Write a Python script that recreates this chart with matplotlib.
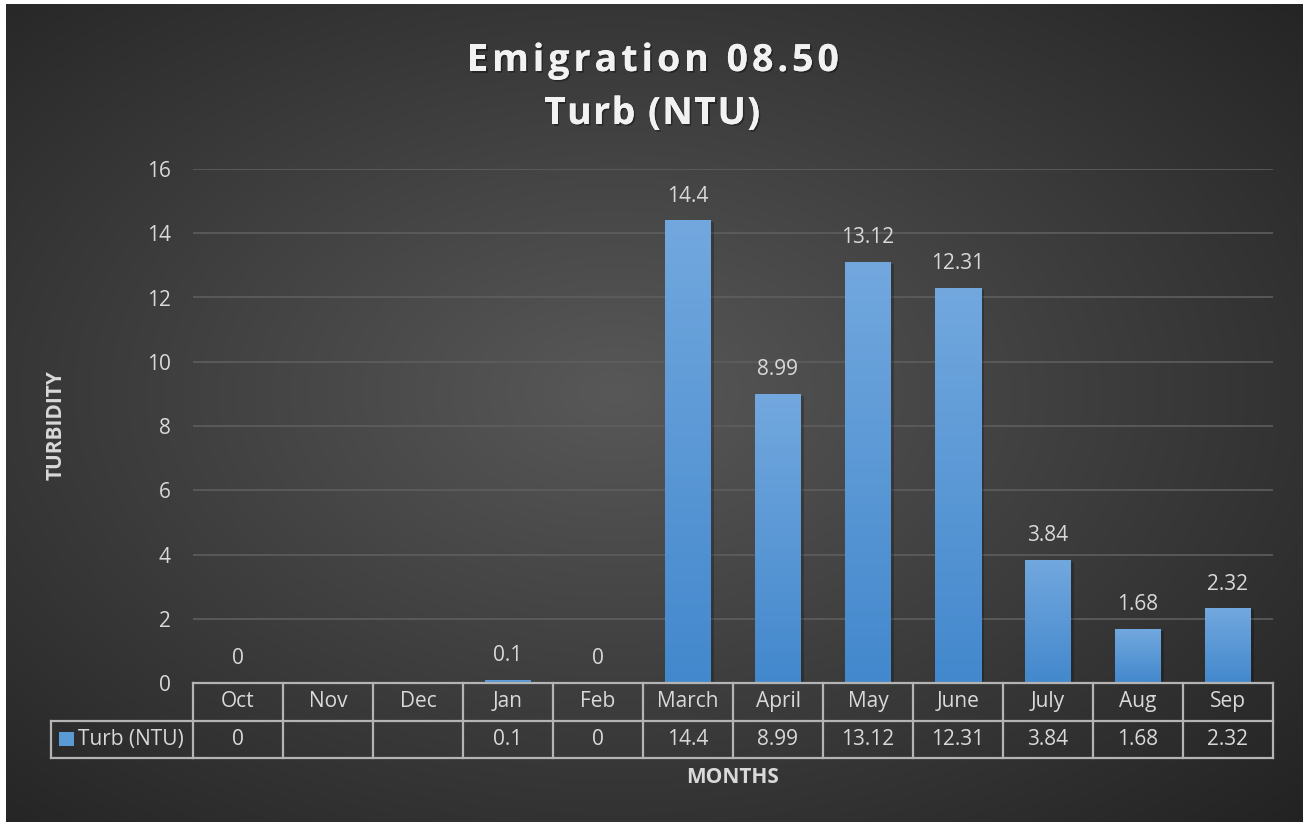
import numpy as np
import matplotlib
matplotlib.use("Agg")
import matplotlib.pyplot as plt
import matplotlib.patheffects as pe
from matplotlib.colors import LinearSegmentedColormap
from matplotlib.patches import Rectangle

months = ["Oct", "Nov", "Dec", "Jan", "Feb", "March", "April", "May", "June", "July", "Aug", "Sep"]
values = [0, None, None, 0.1, 0, 14.4, 8.99, 13.12, 12.31, 3.84, 1.68, 2.32]
table_labels = ["0", "", "", "0.1", "0", "14.4", "8.99", "13.12", "12.31", "3.84", "1.68", "2.32"]
series_name = "Turb (NTU)"
yticks = [0, 2, 4, 6, 8, 10, 12, 14, 16]
title = "Emigration 08.50"
subtitle = "Turb (NTU)"

plt.rcParams['font.family'] = ['Open Sans', 'DejaVu Sans']
W, H = 1303, 822
fig = plt.figure(figsize=(W/100, H/100), dpi=100)
fig.patch.set_facecolor("white")
txt = "#d9d9d9"
fs = 15

# background radial gradient
bg = fig.add_axes([6/W, 0, 1 - 6/W, 1 - 4/H])
bg.set_axis_off()
yy, xx = np.mgrid[0:400, 0:640]
cx, cy = 300, 190
d = np.sqrt(((xx - cx)/640)**2 + ((yy - cy)/400)**2)
d = np.clip(d / 0.75, 0, 1)
c_in = np.array([0x58, 0x58, 0x58]) / 255
c_out = np.array([0x22, 0x22, 0x22]) / 255
img = c_in[None, None, :] * (1 - d[..., None]) + c_out[None, None, :] * d[..., None]
bg.imshow(img, aspect="auto", extent=[0, 1, 0, 1], origin="upper")
bg.set_xlim(0, 1); bg.set_ylim(0, 1)

left, right = 193/W, 1273/W
bottom, top = (H - 683)/H, (H - 169)/H
ax = fig.add_axes([left, bottom, right - left, top - bottom])
ax.set_facecolor("none")
for s in ax.spines.values():
    s.set_visible(False)

x = np.arange(len(months))
ax.set_xlim(-0.5, len(months) - 0.5)
ax.set_ylim(0, 16)
ax.set_yticks(yticks)
ax.set_yticklabels([str(t) for t in yticks], color=txt, fontsize=fs)
ax.tick_params(axis="y", length=0, pad=16)
ax.set_xticks([])
ax.grid(axis="y", color="#5e5e5e", linewidth=1.2)
ax.set_axisbelow(True)

cmap = LinearSegmentedColormap.from_list("b", ["#4388cd", "#72a8de"])
grad = np.linspace(0, 1, 256).reshape(-1, 1)
bw = 46/90
for xi, v in zip(x, values):
    if v is None:
        continue
    if v > 0:
        sh = Rectangle((xi - bw/2, 0), bw, v, facecolor="black", edgecolor="none",
                       alpha=0.22, zorder=2,
                       transform=ax.transData + matplotlib.transforms.ScaledTranslation(3/100, -2/100, fig.dpi_scale_trans))
        ax.add_patch(sh)
        rect = Rectangle((xi - bw/2, 0), bw, v, facecolor="none", edgecolor="none")
        ax.add_patch(rect)
        im = ax.imshow(grad, cmap=cmap, aspect="auto", origin="lower",
                       extent=[xi - bw/2, xi + bw/2, 0, v], zorder=3)
        im.set_clip_path(rect)
    ax.annotate(f"{v:g}", (xi, v), xytext=(0, 10), textcoords="offset points",
                ha="center", va="bottom", color=txt, fontsize=fs)
ax.set_xlim(-0.5, len(months) - 0.5)
ax.set_ylim(0, 16)

# data table below
tr = ax.get_xaxis_transform()
rh = 37.5 / (683 - 169)
lc = "#b4b4b4"
lw = 1.6
ax.plot([-0.5, 11.5], [0, 0], transform=tr, color=lc, lw=lw, clip_on=False, zorder=5)
ax.plot([-0.5, 11.5], [-rh, -rh], transform=tr, color=lc, lw=lw, clip_on=False)
ax.plot([-0.5, 11.5], [-2*rh, -2*rh], transform=tr, color=lc, lw=lw, clip_on=False)
for i in range(len(months) + 1):
    ax.plot([i - 0.5, i - 0.5], [0, -2*rh], transform=tr, color=lc, lw=lw, clip_on=False)
lx0 = -0.5 - (193 - 51) / 90
ax.plot([lx0, -0.5], [-rh, -rh], transform=tr, color=lc, lw=lw, clip_on=False)
ax.plot([lx0, -0.5], [-2*rh, -2*rh], transform=tr, color=lc, lw=lw, clip_on=False)
ax.plot([lx0, lx0], [-rh, -2*rh], transform=tr, color=lc, lw=lw, clip_on=False)
for xi, m, t in zip(x, months, table_labels):
    ax.text(xi, -rh/2, m, transform=tr, ha="center", va="center", color=txt, fontsize=fs)
    ax.text(xi, -1.5*rh, t, transform=tr, ha="center", va="center", color=txt, fontsize=fs)
kx = lx0 + 8/90
ax.add_patch(Rectangle((kx, -1.5*rh - 7/514), 15/90, 14/514, transform=tr,
                       facecolor="#5b9bd5", edgecolor="none", clip_on=False))
ax.text(kx + 19/90, -1.5*rh, series_name, transform=tr, ha="left", va="center",
        color=txt, fontsize=fs)

# letter-spaced titles
renderer = fig.canvas.get_renderer()
shadow = [pe.withSimplePatchShadow(offset=(1.2, -1.2), shadow_rgbFace="black", alpha=0.35), pe.Normal()]

def spaced_text(s, xc_px, base_px, size, spacing_px):
    objs = []
    widths = []
    for ch in s:
        t = fig.text(0, 0, ch, fontsize=size, fontweight="bold", color="#f2f2f2",
                     va="baseline", ha="left", path_effects=shadow)
        objs.append(t)
    for ch in s:
        probe = fig.text(0, 0, ch if ch != " " else "a a", fontsize=size, fontweight="bold")
        w = probe.get_window_extent(renderer).width
        if ch == " ":
            pa = fig.text(0, 0, "aa", fontsize=size, fontweight="bold")
            w = w - pa.get_window_extent(renderer).width
            pa.remove()
        probe.remove()
        widths.append(w)
    total = sum(widths) + spacing_px * (len(s) - 1)
    xpos = xc_px - total / 2
    for t, w in zip(objs, widths):
        t.set_position((xpos / W, 1 - base_px / H))
        xpos += w + spacing_px

spaced_text(title, 653, 71, 27, 4.0)
spaced_text(subtitle, 652, 124, 27, 1.5)

fig.text(56/W, 1 - 425/H, "TURBIDITY", ha="center", va="center", rotation=90,
         color=txt, fontsize=15, fontweight="bold")
fig.text(733/W, 1 - 777/H, "MONTHS", ha="center", va="center",
         color=txt, fontsize=15, fontweight="bold")

fig.savefig("out.png", dpi=100, facecolor=fig.get_facecolor())
